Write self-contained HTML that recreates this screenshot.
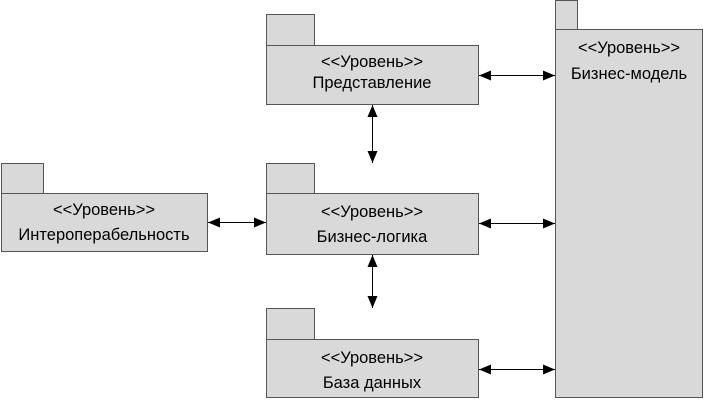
<!DOCTYPE html>
<html><head><meta charset="utf-8"><style>body{margin:0;background:#fff}</style></head><body>
<svg width="705" height="400" xmlns="http://www.w3.org/2000/svg" style="font-family:'Liberation Sans',Arial,sans-serif;font-size:16.5px" fill="#000">
<defs><marker id="a" markerWidth="12" markerHeight="10" refX="12" refY="5" orient="auto-start-reverse" markerUnits="userSpaceOnUse"><path d="M0,0L12,5L0,10z" fill="#000"/></marker></defs>
<g fill="#d9d9d9" stroke="#555" stroke-width="1">
<rect x="266.5" y="14.5" width="48" height="31"/><rect x="266.5" y="45.5" width="212" height="59"/>
<rect x="555.5" y="0.5" width="22" height="29"/><rect x="555.5" y="29.5" width="147" height="368"/>
<rect x="1.5" y="163.5" width="42" height="30"/><rect x="1.5" y="193.5" width="206" height="58"/>
<rect x="266.5" y="163.5" width="48" height="30"/><rect x="266.5" y="193.5" width="212" height="61"/>
<rect x="266.5" y="308.5" width="48" height="31"/><rect x="266.5" y="339.5" width="212" height="58"/>
</g>
<g stroke="#000" stroke-width="1" marker-start="url(#a)" marker-end="url(#a)">
<line x1="479" y1="75.5" x2="555" y2="75.5"/>
<line x1="479" y1="223.5" x2="555" y2="223.5"/>
<line x1="479" y1="369.5" x2="555" y2="369.5"/>
<line x1="208" y1="222.5" x2="266" y2="222.5"/>
<line x1="372.5" y1="105" x2="372.5" y2="163"/>
<line x1="372.5" y1="255" x2="372.5" y2="308"/>
</g>
<g text-anchor="middle">
<text x="372" y="67">&lt;&lt;Уровень&gt;&gt;</text><text x="372" y="88">Представление</text>
<text x="629" y="53">&lt;&lt;Уровень&gt;&gt;</text><text x="629" y="79">Бизнес-модель</text>
<text x="104" y="215">&lt;&lt;Уровень&gt;&gt;</text><text x="104" y="240">Интероперабельность</text>
<text x="372" y="217">&lt;&lt;Уровень&gt;&gt;</text><text x="372" y="242">Бизнес-логика</text>
<text x="372" y="363">&lt;&lt;Уровень&gt;&gt;</text><text x="372" y="388">База данных</text>
</g>
</svg>
</body></html>
